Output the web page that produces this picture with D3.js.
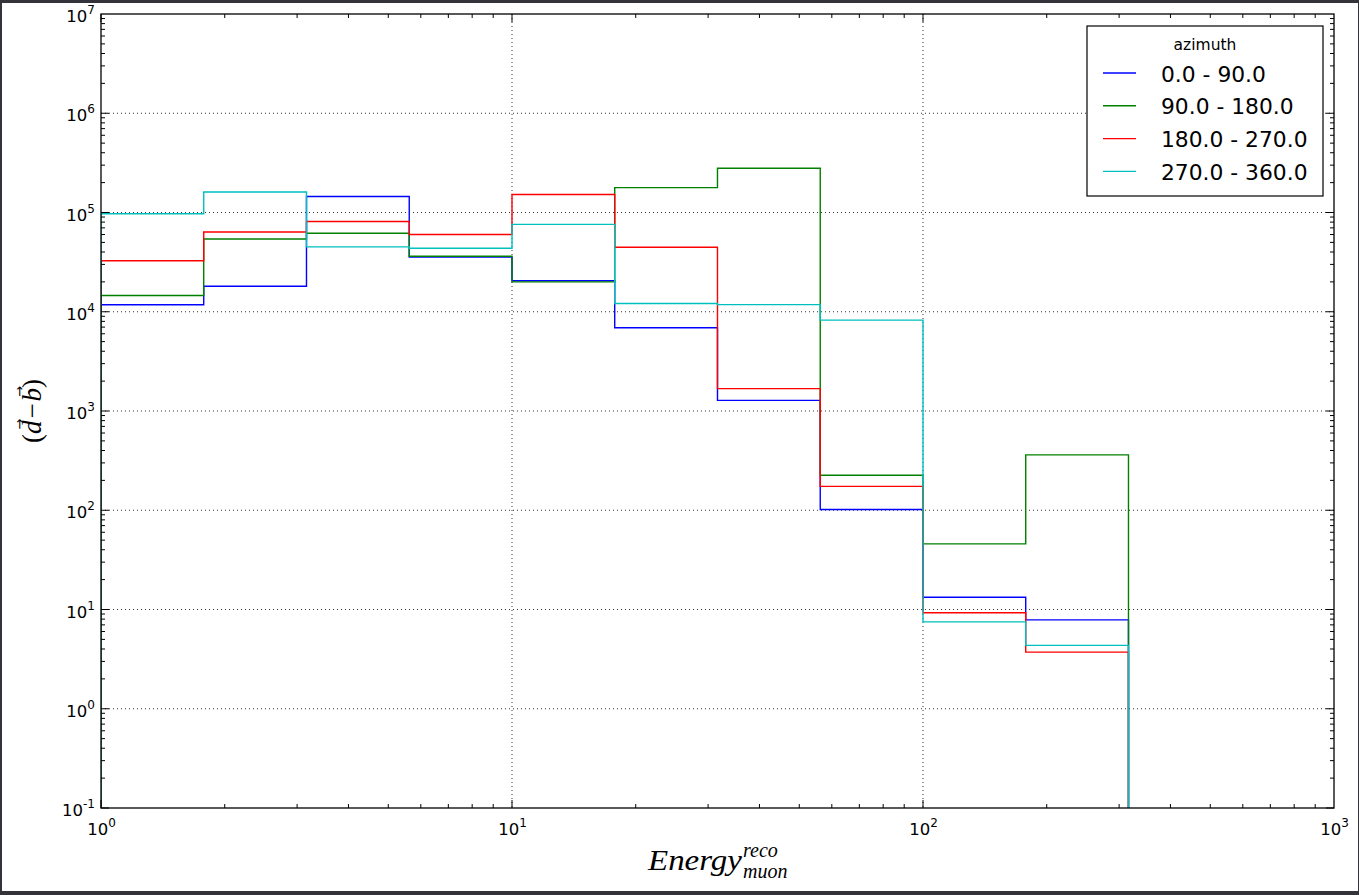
<!DOCTYPE html>
<html>
<head>
<meta charset="utf-8">
<script src="https://cdn.jsdelivr.net/npm/d3@7"></script>
<style>
  body { margin: 0; background: #fff; }
  svg { display: block; }
</style>
</head>
<body>
<svg id="chart" width="1359" height="895"></svg>
<script>
// bin edges (4 per decade)
var edges = [1, 1.778, 3.162, 5.623, 10, 17.78, 31.62, 56.23, 100, 177.8, 316.2];

// counts per bin, one array per azimuth range
var blueVals  = [11750, 18100, 145000, 35500, 20500, 6900, 1280, 101.6, 13.3, 7.87];
var greenVals = [14600, 54100, 61800, 36200, 20000, 178000, 279000, 225, 45.8, 361];
var redVals   = [32700, 63700, 81100, 60000, 152000, 44600, 1680, 174, 9.27, 3.72];
var cyanVals  = [97000, 161000, 45000, 43600, 75900, 12100, 11800, 8230, 7.5, 4.35];

var seriesNames = ["0.0 - 90.0", "90.0 - 180.0", "180.0 - 270.0", "270.0 - 360.0"];
var seriesColors = ["#0000ff", "#008000", "#ff0000", "#00bfbf"];
var xTickExps = [0, 1, 2, 3];
var yTickExps = [-1, 0, 1, 2, 3, 4, 5, 6, 7];

(function() {
  var svg = d3.select("#chart");
  var W = 1359, H = 895;
  var pL = 101, pR = 1334, pT = 14, pB = 808;

  var x = d3.scaleLog().domain([1, 1000]).range([pL, pR]);
  var y = d3.scaleLog().domain([0.1, 1e7]).range([pB, pT]);

  // outer dark frame of the screenshot
  svg.append("rect").attr("x", 0).attr("y", 0).attr("width", W).attr("height", H).attr("fill", "#34333a");
  svg.append("rect").attr("x", 2).attr("y", 3).attr("width", W - 3).attr("height", 888).attr("fill", "#fff");

  svg.append("clipPath").attr("id", "plotclip")
    .append("rect").attr("x", pL).attr("y", pT).attr("width", pR - pL).attr("height", pB - pT);

  // grid
  var grid = svg.append("g").attr("stroke", "#333").attr("stroke-width", 1).attr("stroke-dasharray", "1,3");
  xTickExps.slice(1, -1).forEach(function(e) {
    grid.append("line").attr("x1", x(Math.pow(10, e))).attr("x2", x(Math.pow(10, e)))
      .attr("y1", pT).attr("y2", pB);
  });
  yTickExps.slice(1, -1).forEach(function(e) {
    grid.append("line").attr("x1", pL).attr("x2", pR)
      .attr("y1", y(Math.pow(10, e))).attr("y2", y(Math.pow(10, e)));
  });

  // step histograms
  var allVals = [blueVals, greenVals, redVals, cyanVals];
  var line = d3.line().x(function(d) { return x(d[0]); }).y(function(d) { return y(d[1]); });
  var plot = svg.append("g").attr("clip-path", "url(#plotclip)");
  allVals.forEach(function(vals, k) {
    var pts = [[edges[0], 0.01]];
    vals.forEach(function(v, i) {
      pts.push([edges[i], v]);
      pts.push([edges[i + 1], v]);
    });
    pts.push([edges[edges.length - 1], 0.01]);
    plot.append("path").attr("d", line(pts))
      .attr("fill", "none").attr("stroke", seriesColors[k]).attr("stroke-width", 1.4);
  });

  // ticks (inward, all four sides)
  var ticks = svg.append("g").attr("stroke", "#000").attr("stroke-width", 1);
  var majLen = 8, minLen = 4;
  var e, m, v, L, p;
  for (e = 0; e < 3; e++) {
    for (m = 1; m < 10; m++) {
      v = m * Math.pow(10, e); L = m === 1 ? majLen : minLen; p = x(v);
      ticks.append("line").attr("x1", p).attr("x2", p).attr("y1", pB).attr("y2", pB - L);
      ticks.append("line").attr("x1", p).attr("x2", p).attr("y1", pT).attr("y2", pT + L);
    }
  }
  for (e = -1; e < 7; e++) {
    for (m = 1; m < 10; m++) {
      v = m * Math.pow(10, e); L = m === 1 ? majLen : minLen; p = y(v);
      ticks.append("line").attr("x1", pL).attr("x2", pL + L).attr("y1", p).attr("y2", p);
      ticks.append("line").attr("x1", pR).attr("x2", pR - L).attr("y1", p).attr("y2", p);
    }
  }

  // axes frame
  svg.append("rect").attr("x", pL).attr("y", pT).attr("width", pR - pL).attr("height", pB - pT)
    .attr("fill", "none").attr("stroke", "#000").attr("stroke-width", 1.3);

  // tick labels
  var font = "'DejaVu Sans', sans-serif";
  function powLabel(sel, e) {
    sel.append("tspan").text("10");
    sel.append("tspan").attr("dy", -8).attr("font-size", 12).text(e);
  }
  yTickExps.forEach(function(e) {
    var t = svg.append("text").attr("x", 95).attr("y", y(Math.pow(10, e)) + 8)
      .attr("text-anchor", "end").attr("font-family", font).attr("font-size", 16.5).attr("fill", "#000");
    powLabel(t, e);
  });
  xTickExps.forEach(function(e) {
    var t = svg.append("text").attr("x", x(Math.pow(10, e)) + 0.5).attr("y", 835)
      .attr("text-anchor", "middle").attr("font-family", font).attr("font-size", 16.5).attr("fill", "#000");
    powLabel(t, e);
  });

  // axis labels
  var serif = "'Liberation Serif', 'DejaVu Serif', serif";
  svg.append("text").attr("x", 648).attr("y", 870).attr("font-family", serif).attr("font-style", "italic")
    .attr("font-size", 30).attr("textLength", 94).attr("lengthAdjust", "spacingAndGlyphs").text("Energy");
  svg.append("text").attr("x", 743).attr("y", 857).attr("font-family", serif).attr("font-style", "italic")
    .attr("font-size", 20).text("reco");
  svg.append("text").attr("x", 743).attr("y", 878).attr("font-family", serif).attr("font-style", "italic")
    .attr("font-size", 20).text("muon");

  // y label (d - b) with vector arrows, rotated
  var yg = svg.append("g").attr("transform", "translate(41,411) rotate(-90)");
  var parts = [["(", false], ["d", true], ["\u2212", false], ["b", true], [")", false]];
  var cx = 0, pos = [];
  parts.forEach(function(pp) {
    var t = yg.append("text").attr("x", cx).attr("y", 0).attr("font-family", serif)
      .attr("font-size", 27).attr("font-style", pp[1] ? "italic" : "normal").text(pp[0]);
    var w = t.node().getComputedTextLength();
    pos.push([t, cx, w, pp[1]]);
    cx += w + (pp[0] === "\u2212" || pp[0] === "d" ? 2 : 0);
  });
  var shift = -cx / 2;
  pos.forEach(function(q) {
    q[0].attr("x", q[1] + shift);
    if (q[3]) {
      yg.append("text").attr("x", q[1] + shift + q[2] / 2 + 3).attr("y", -17)
        .attr("text-anchor", "middle").attr("font-family", "'DejaVu Sans', sans-serif")
        .attr("font-size", 13).text("\u2192");
    }
  });

  // legend
  var lg = svg.append("g");
  lg.append("rect").attr("x", 1087).attr("y", 26).attr("width", 236).attr("height", 170)
    .attr("fill", "#fff").attr("stroke", "#000").attr("stroke-width", 1.2);
  lg.append("text").attr("x", 1205).attr("y", 50).attr("text-anchor", "middle")
    .attr("font-family", font).attr("font-size", 15.5).text("azimuth");
  seriesNames.forEach(function(name, k) {
    var by = 81.5 + k * 32.8;
    lg.append("line").attr("x1", 1103).attr("x2", 1136).attr("y1", by - 8.5).attr("y2", by - 8.5)
      .attr("stroke", seriesColors[k]).attr("stroke-width", 1.4);
    lg.append("text").attr("x", 1161).attr("y", by).attr("font-family", font).attr("font-size", 21.8)
      .text(name);
  });
})();
</script>
</body>
</html>
